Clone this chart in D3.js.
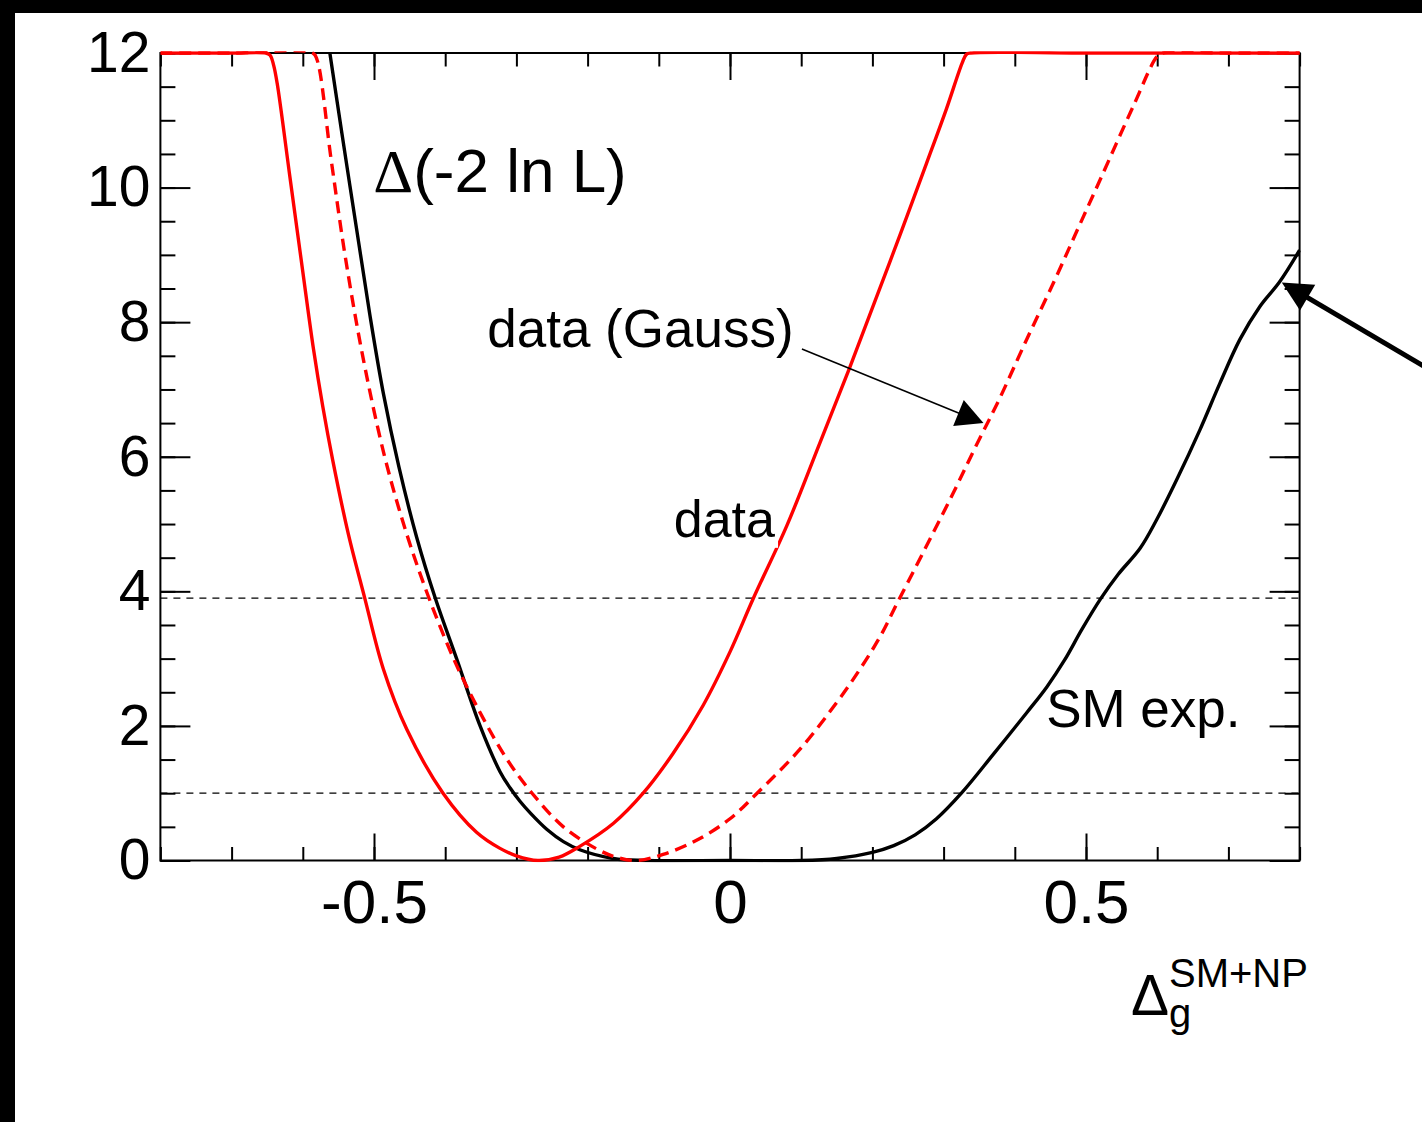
<!DOCTYPE html>
<html>
<head>
<meta charset="utf-8">
<script src="https://cdn.jsdelivr.net/npm/d3@7"></script>
<style>
  html, body { margin: 0; padding: 0; background: #fff; }
  svg { display: block; }
  text { font-family: "Liberation Sans", Arial, Helvetica, sans-serif; fill: #000; }
</style>
</head>
<body>
<svg id="chart" width="1422" height="1122"></svg>
<script>
// Profile-likelihood scans, Δ(-2 ln L) vs Δg (SM+NP)
const dataScan = [
  [-0.800, 12], [-0.700, 12], [-0.652, 12], [-0.646, 11.97], [-0.641, 11.82], [-0.636, 11.55],
  [-0.618, 10.15], [-0.600, 8.75], [-0.585, 7.6], [-0.572, 6.75], [-0.558, 5.95],
  [-0.536, 4.85], [-0.513, 3.9], [-0.487, 2.85], [-0.454, 1.95], [-0.403, 1.0],
  [-0.356, 0.42], [-0.323, 0.18], [-0.300, 0.07], [-0.270, 0.0], [-0.240, 0.05],
  [-0.211, 0.21], [-0.164, 0.55], [-0.122, 1.0], [-0.080, 1.59], [-0.038, 2.3],
  [0.000, 3.1], [0.033, 3.9], [0.080, 4.98], [0.126, 6.2], [0.168, 7.32],
  [0.206, 8.38], [0.240, 9.33], [0.276, 10.36], [0.304, 11.17], [0.326, 11.85],
  [0.332, 11.98], [0.338, 12], [0.500, 12], [0.800, 12]
];

const gaussScan = [
  [-0.800, 12], [-0.700, 12], [-0.586, 12], [-0.580, 11.9], [-0.560, 10.4], [-0.540, 8.95],
  [-0.515, 7.45], [-0.485, 6.0], [-0.454, 4.85], [-0.421, 3.85], [-0.384, 2.9],
  [-0.347, 2.12], [-0.313, 1.5], [-0.278, 1.0], [-0.234, 0.5], [-0.187, 0.17],
  [-0.160, 0.05], [-0.131, 0.0], [-0.094, 0.09], [-0.047, 0.3], [0.000, 0.62],
  [0.038, 1.0], [0.098, 1.65], [0.150, 2.35], [0.183, 2.85], [0.211, 3.33],
  [0.236, 3.85], [0.270, 4.55], [0.313, 5.45], [0.345, 6.15], [0.378, 6.85],
  [0.417, 7.75], [0.455, 8.6], [0.487, 9.35], [0.520, 10.12], [0.566, 11.2],
  [0.600, 11.95], [0.608, 12], [0.700, 12], [0.800, 12]
];

const smExpScan = [
  [-0.562, 12], [-0.545, 10.8], [-0.525, 9.42], [-0.506, 8.12], [-0.487, 6.95],
  [-0.465, 5.85], [-0.440, 4.8], [-0.414, 3.9], [-0.384, 3.0], [-0.351, 2.0],
  [-0.323, 1.32], [-0.309, 1.08], [-0.295, 0.88], [-0.280, 0.7], [-0.257, 0.46],
  [-0.234, 0.28], [-0.211, 0.16], [-0.164, 0.03], [-0.120, 0.0], [0.000, 0.0],
  [0.100, 0.0], [0.150, 0.03], [0.200, 0.12], [0.230, 0.22], [0.260, 0.38],
  [0.290, 0.62], [0.325, 1.0], [0.370, 1.58], [0.417, 2.2], [0.445, 2.58],
  [0.470, 2.98], [0.494, 3.43], [0.520, 3.88], [0.545, 4.25], [0.576, 4.64],
  [0.599, 5.06], [0.627, 5.65], [0.660, 6.40], [0.688, 7.09], [0.716, 7.74],
  [0.744, 8.23], [0.772, 8.60], [0.800, 9.07]
];

// Reference levels (1σ and 2σ)
const refLevels = [1.0, 3.9];

// Axis ticks
const xTickValues = [-0.5, 0, 0.5];
const xTickLabels = ["-0.5", "0", "0.5"];
const xMinorValues = [-0.8, -0.7, -0.6, -0.5, -0.4, -0.3, -0.2, -0.1, 0, 0.1, 0.2, 0.3, 0.4, 0.5, 0.6, 0.7, 0.8];
const yTickValues = [0, 2, 4, 6, 8, 10, 12];
const yTickLabels = ["0", "2", "4", "6", "8", "10", "12"];
const yMinorValues = [0, 0.5, 1, 1.5, 2, 2.5, 3, 3.5, 4, 4.5, 5, 5.5, 6, 6.5, 7, 7.5, 8, 8.5, 9, 9.5, 10, 10.5, 11, 11.5, 12];

const svg = d3.select("#chart");
const W = 1422, H = 1122;

// outer black edges
svg.append("rect").attr("x", 0).attr("y", 0).attr("width", W).attr("height", 13).attr("fill", "#000");
svg.append("rect").attr("x", 0).attr("y", 0).attr("width", 15).attr("height", H).attr("fill", "#000");

const x = d3.scaleLinear().domain([-0.8, 0.8]).range([160.4, 1299.6]);
const y = d3.scaleLinear().domain([0, 12]).range([860.5, 53]);

const lineW = 3.4;
svg.append("defs").append("clipPath").attr("id", "plot-clip")
  .append("rect")
  .attr("x", x(-0.8)).attr("y", y(12) - lineW / 2)
  .attr("width", x(0.8) - x(-0.8) + 1).attr("height", y(0) - y(12) + lineW);

function styleAxis(size) {
  return g => {
    g.select(".domain").remove();
    g.selectAll(".tick line").attr("stroke", "#000").attr("stroke-width", 2);
    g.selectAll(".tick text")
      .attr("font-size", size)
      .attr("font-family", "'Liberation Sans', Arial, sans-serif")
      .attr("fill", "#000");
  };
}

// bottom axis
svg.append("g").attr("transform", `translate(0,${y(0)})`)
  .call(d3.axisBottom(x).tickValues(xMinorValues).tickSize(-13.5).tickFormat(""))
  .call(styleAxis(62));
svg.append("g").attr("transform", `translate(0,${y(0)})`)
  .call(d3.axisBottom(x).tickValues(xTickValues).tickSize(-27).tickPadding(18)
    .tickFormat((d, i) => xTickLabels[i]))
  .call(styleAxis(62));
// top axis
svg.append("g").attr("transform", `translate(0,${y(12)})`)
  .call(d3.axisTop(x).tickValues(xMinorValues).tickSize(-13.5).tickFormat(""))
  .call(styleAxis(62));
svg.append("g").attr("transform", `translate(0,${y(12)})`)
  .call(d3.axisTop(x).tickValues(xTickValues).tickSize(-27).tickFormat(""))
  .call(styleAxis(62));
// left axis
svg.append("g").attr("transform", `translate(${x(-0.8)},0)`)
  .call(d3.axisLeft(y).tickValues(yMinorValues).tickSize(-15).tickFormat(""))
  .call(styleAxis(57));
svg.append("g").attr("transform", `translate(${x(-0.8)},0)`)
  .call(d3.axisLeft(y).tickValues(yTickValues).tickSize(-30).tickPadding(10)
    .tickFormat((d, i) => yTickLabels[i]))
  .call(styleAxis(57));
// right axis
svg.append("g").attr("transform", `translate(${x(0.8)},0)`)
  .call(d3.axisRight(y).tickValues(yMinorValues).tickSize(-15).tickFormat(""))
  .call(styleAxis(57));
svg.append("g").attr("transform", `translate(${x(0.8)},0)`)
  .call(d3.axisRight(y).tickValues(yTickValues).tickSize(-30).tickFormat(""))
  .call(styleAxis(57));

// frame
svg.append("rect")
  .attr("x", x(-0.8)).attr("y", y(12))
  .attr("width", x(0.8) - x(-0.8)).attr("height", y(0) - y(12))
  .attr("fill", "none").attr("stroke", "#000").attr("stroke-width", 2);

// reference levels
svg.append("g").selectAll("line").data(refLevels).join("line")
  .attr("x1", x(-0.8)).attr("x2", x(0.8))
  .attr("y1", d => y(d)).attr("y2", d => y(d))
  .attr("stroke", "#000").attr("stroke-width", 1.3)
  .attr("stroke-dasharray", "7,6");

const line = d3.line().x(d => x(d[0])).y(d => y(d[1])).curve(d3.curveCatmullRom.alpha(0.5));
const curves = svg.append("g").attr("clip-path", "url(#plot-clip)");

curves.append("path").datum(smExpScan).attr("d", line)
  .attr("fill", "none").attr("stroke", "#000").attr("stroke-width", lineW)
  .attr("stroke-linejoin", "round");
curves.append("path").datum(gaussScan).attr("d", line)
  .attr("fill", "none").attr("stroke", "#ff0000").attr("stroke-width", lineW)
  .attr("stroke-dasharray", "12,7");
curves.append("path").datum(dataScan).attr("d", line)
  .attr("fill", "none").attr("stroke", "#ff0000").attr("stroke-width", lineW)
  .attr("stroke-linejoin", "round");

// y-axis title
const yTitle = svg.append("text").attr("x", x(-0.501)).attr("y", y(9.93)).attr("font-size", 62);
yTitle.append("tspan").attr("font-family", "'Liberation Serif', 'Times New Roman', serif").text("Δ");
yTitle.append("tspan").text("(-2 ln L)");

// x-axis title
const xTitle = svg.append("g");
xTitle.append("text").attr("x", 1131).attr("y", 1015).attr("font-size", 57)
  .attr("font-family", "'Liberation Serif', 'Times New Roman', serif").text("Δ");
xTitle.append("text").attr("x", 1169).attr("y", 987).attr("font-size", 40).text("SM+NP");
xTitle.append("text").attr("x", 1169).attr("y", 1027).attr("font-size", 40).text("g");

// curve labels
const dataLabel = svg.append("g");
const dataText = dataLabel.append("text").attr("x", x(-0.079)).attr("y", y(4.81)).attr("font-size", 52).text("data");
const bb = dataText.node().getBBox();
dataLabel.insert("rect", "text")
  .attr("x", bb.x - 3).attr("y", bb.y + 4).attr("width", bb.width + 6).attr("height", bb.height - 4)
  .attr("fill", "#fff");

svg.append("text").attr("x", x(-0.341)).attr("y", y(7.63)).attr("font-size", 53).text("data (Gauss)");
svg.append("text").attr("x", x(0.444)).attr("y", y(1.99)).attr("font-size", 53).text("SM exp.");

// arrows
function arrow(x0, y0, x1, y1, width, headLen, headHalf) {
  const dx = x1 - x0, dy = y1 - y0, L = Math.hypot(dx, dy);
  const ux = dx / L, uy = dy / L;
  const bx = x1 - ux * headLen, by = y1 - uy * headLen;
  svg.append("line").attr("x1", x0).attr("y1", y0).attr("x2", bx + ux * 2).attr("y2", by + uy * 2)
    .attr("stroke", "#000").attr("stroke-width", width);
  svg.append("path")
    .attr("d", `M${x1},${y1}L${bx - uy * headHalf},${by + ux * headHalf}L${bx + uy * headHalf},${by - ux * headHalf}Z`)
    .attr("fill", "#000");
}
arrow(x(0.101), y(7.60), x(0.356), y(6.50), 1.6, 27, 14);
arrow(x(0.990), y(7.25), x(0.775), y(8.59), 5, 30, 15);
</script>
</body>
</html>
